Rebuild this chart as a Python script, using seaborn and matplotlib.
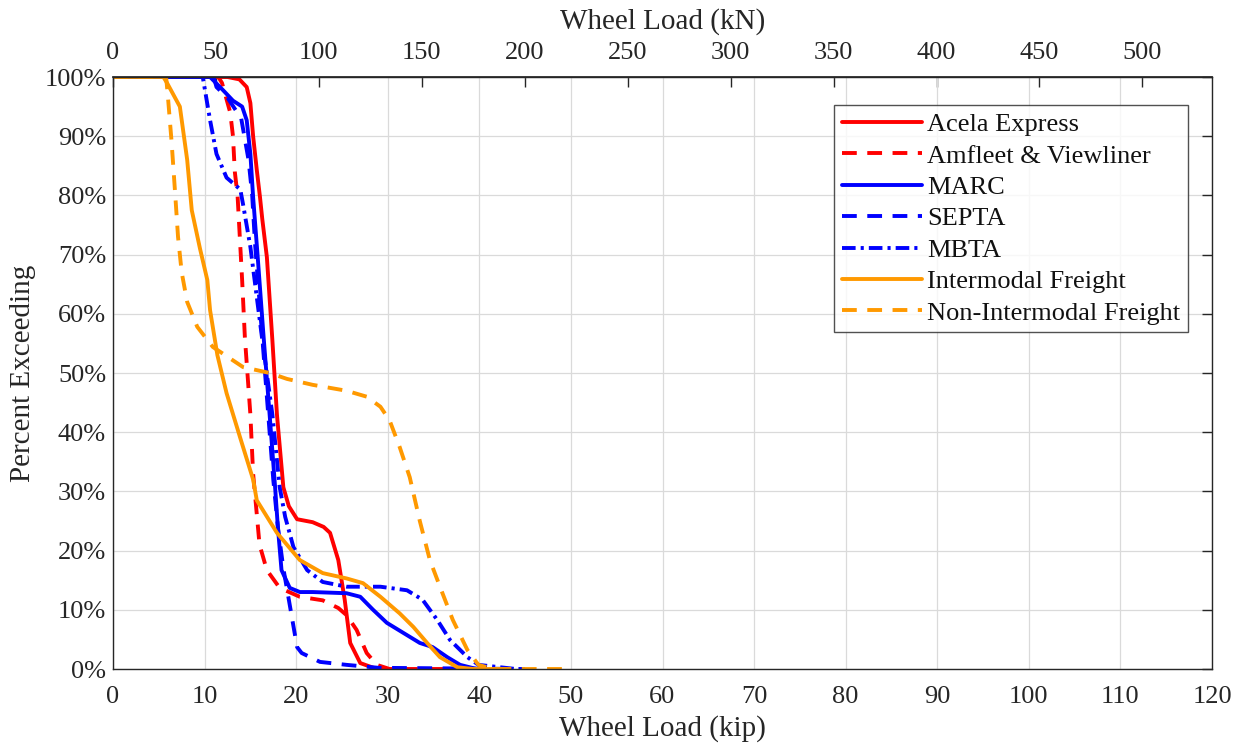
import matplotlib
matplotlib.use("Agg")
import matplotlib.pyplot as plt
import seaborn as sns
import pandas as pd

# ---- data (kip, percent exceeding) ----
acela_x = [0, 12.5, 13.8, 14.6, 15.0, 15.3, 15.7, 16.05, 16.3, 16.8, 17.4, 17.9, 18.6, 19.2, 20.1, 21.8, 23.0, 23.7, 24.6, 25.3, 25.9, 27.0, 28.8, 30.0]
acela_y = [100, 100, 99.6, 98.3, 95.6, 90, 84.3, 79.7, 76, 69.6, 55.6, 43, 30.7, 27.5, 25.3, 24.8, 24, 23, 18.4, 11.7, 4.4, 1.0, 0, 0]

amfleet_x = [0, 11.5, 11.9, 12.8, 13.1, 13.3, 13.6, 14.1, 14.4, 15.0, 15.3, 16.0, 16.8, 18.2, 20.4, 22.9, 24.6, 25.5, 26.6, 27.7, 28.8, 30.2, 37.0]
amfleet_y = [100, 100, 99, 94, 90, 84, 80, 65.7, 56, 43, 33, 21, 16.7, 13.7, 12.2, 11.6, 10.3, 9.1, 6.6, 2.7, 0.7, 0, 0]

marc_x = [0, 10.6, 12.0, 13.1, 14.1, 14.6, 15.0, 15.3, 15.8, 16.4, 17.1, 17.7, 18.0, 18.4, 19.3, 20.4, 21.8, 25.5, 27.0, 28.4, 29.9, 31.7, 33.5, 34.9, 36.5, 37.9, 39.7]
marc_y = [100, 100, 97.8, 96, 95, 92.7, 87, 79.7, 69.6, 57, 43, 30.7, 24, 16.7, 13.7, 13, 13, 12.8, 12.2, 10, 7.8, 6.1, 4.4, 3.7, 2.0, 0.7, 0]

septa_x = [0, 11.0, 11.3, 12.5, 14.0, 14.8, 15.2, 15.5, 16.0, 16.5, 17.0, 17.5, 18.0, 18.6, 19.2, 20.1, 20.6, 22.6, 25.5, 29.0, 45.0]
septa_y = [100, 100, 98.3, 96.5, 93, 86, 80, 72, 62, 52, 42, 32, 24, 17, 11.7, 3.7, 2.7, 1.2, 0.7, 0.2, 0]

mbta_x = [0, 9.8, 10.6, 11.3, 12.4, 13.9, 14.2, 15.0, 15.7, 16.3, 17.4, 18.2, 18.8, 19.7, 21.2, 22.9, 25.5, 29.2, 32.1, 33.8, 35.4, 36.8, 38.7, 39.9, 44.0]
mbta_y = [100, 100, 92.7, 87, 83, 81, 78.5, 71.3, 62.8, 55.6, 43, 30.7, 25.7, 20.6, 16.7, 14.7, 13.9, 13.9, 13.3, 11.7, 8.3, 4.9, 2.0, 0.7, 0]

inter_x = [0, 5.5, 5.9, 7.3, 8.1, 8.6, 9.5, 10.3, 10.6, 11.4, 12.4, 13.9, 15.3, 15.7, 17.9, 20.4, 22.9, 25.5, 27.3, 29.2, 31.3, 32.8, 34.3, 35.7, 37.6, 39.3, 42.0]
inter_y = [100, 100, 99, 95, 86, 77.5, 71, 65.7, 60.6, 53, 46.6, 39, 32, 28.5, 23, 18.4, 16.2, 15.3, 14.5, 12.2, 9.4, 7.1, 4.4, 2.0, 0.3, 0, 0]

nonint_x = [0, 5.8, 6.0, 6.4, 6.8, 7.1, 7.5, 8.1, 9.2, 10.9, 14.2, 17.1, 19.0, 21.8, 25.5, 27.7, 29.2, 30.2, 31.3, 32.4, 33.5, 34.6, 35.7, 37.1, 38.7, 39.9, 41.5, 50.0]
nonint_y = [100, 100, 96.6, 89, 80, 73, 67, 62, 57.8, 54.4, 51, 50, 49, 48, 47, 46, 44.3, 42, 37.5, 32.4, 25, 18.4, 13.9, 8.3, 3.2, 0.7, 0, 0]

series = [
    ("Acela Express", acela_x, acela_y, "#ff0000", "-"),
    ("Amfleet & Viewliner", amfleet_x, amfleet_y, "#ff0000", "--"),
    ("MARC", marc_x, marc_y, "#0000ff", "-"),
    ("SEPTA", septa_x, septa_y, "#0000ff", "--"),
    ("MBTA", mbta_x, mbta_y, "#0000ff", "-."),
    ("Intermodal Freight", inter_x, inter_y, "#ff9900", "-"),
    ("Non-Intermodal Freight", nonint_x, nonint_y, "#ff9900", "--"),
]

x_ticks = list(range(0, 121, 10))
y_ticks = list(range(0, 101, 10))
kn_ticks = list(range(0, 501, 50))
KIP_TO_KN = 4.4482216

sns.set_theme(style="white")
plt.rcParams["font.family"] = ["Liberation Serif", "DejaVu Serif"]

fig = plt.figure(figsize=(12.42, 7.49), dpi=100)
ax = fig.add_axes([113/1242, 1-669/749, (1212-113)/1242, (669-77)/749])

LW = 2.8
for name, xs, ys, col, ls in series:
    df = pd.DataFrame({"x": xs, "y": ys})
    sns.lineplot(data=df, x="x", y="y", ax=ax, color=col, linewidth=LW,
                 label=name, sort=False, estimator=None)
    ln = ax.lines[-1]
    ln.set_solid_joinstyle("round")
    ln.set_dash_joinstyle("round")
    if ls == "--":
        ln.set_linestyle((0, (3.8, 2.7)))
    elif ls == "-.":
        ln.set_linestyle((0, (3.5, 1.3, 0.8, 1.3)))

ax.set_xlim(0, 120)
ax.set_ylim(0, 100)
ax.set_xticks(x_ticks)
ax.set_yticks(y_ticks)
ax.set_yticklabels([f"{v}%" for v in y_ticks])
ax.grid(True, color="#dadada", linewidth=0.9)
ax.set_axisbelow(True)
for s in ax.spines.values():
    s.set_color("#262626")
    s.set_linewidth(1.0)
ax.tick_params(axis="both", direction="in", length=7, width=1.0, colors="#262626",
               labelsize=19, labelcolor="#262626", right=True)
ax.tick_params(axis="x", pad=12)
ax.tick_params(axis="y", pad=5)
ax.set_xlabel("Wheel Load (kip)", fontsize=21, color="#262626", labelpad=5)
ax.set_ylabel("Percent Exceeding", fontsize=21, color="#262626", labelpad=6)

sec = ax.secondary_xaxis("top", functions=(lambda v: v * KIP_TO_KN, lambda v: v / KIP_TO_KN))
sec.set_xticks(kn_ticks)
sec.tick_params(direction="in", length=7, width=1.0, colors="#262626", labelsize=19,
                labelcolor="#262626", pad=9)
sec.set_xlabel("Wheel Load (kN)", fontsize=21, color="#262626", labelpad=10)

leg = ax.legend(loc="upper right", bbox_to_anchor=(0.978, 0.953), fontsize=19,
                handlelength=3.0, handletextpad=0.2, labelspacing=0.3,
                borderpad=0.3, frameon=True, fancybox=False, borderaxespad=0)
leg.get_frame().set_edgecolor("#262626")
leg.get_frame().set_linewidth(1.0)
for t in leg.get_texts():
    t.set_color("#111111")

fig.savefig("out.png", dpi=100, facecolor="white")
